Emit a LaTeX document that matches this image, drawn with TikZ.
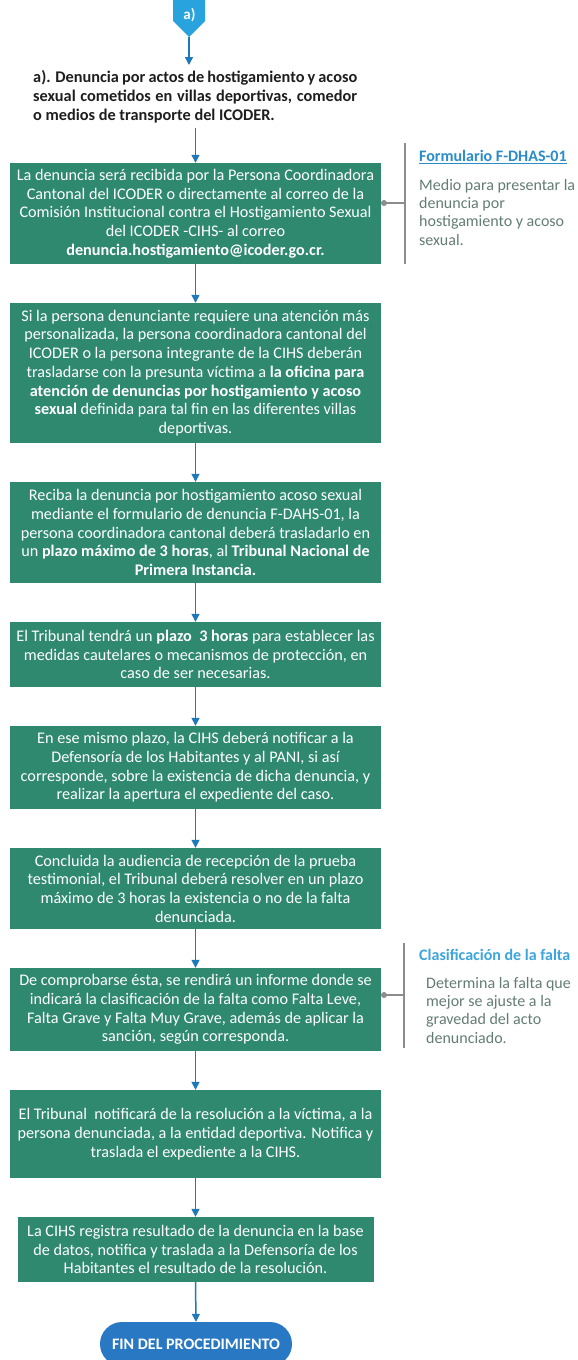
\documentclass[tikz,border=0pt]{standalone}
\usepackage{fontspec}
\setmainfont{Carlito}
\usetikzlibrary{arrows.meta,calc}
\definecolor{boxgreen}{RGB}{47,137,110}
\definecolor{arrowblue}{RGB}{31,120,185}
\definecolor{markblue}{RGB}{41,163,221}
\definecolor{pillblue}{RGB}{40,120,195}
\definecolor{barGray}{RGB}{140,140,140}
\definecolor{sidetext}{RGB}{100,125,115}
\definecolor{sidetitleA}{RGB}{42,140,200}
\definecolor{sidetitleB}{RGB}{60,165,220}
\definecolor{titletext}{RGB}{30,30,30}
\tikzset{
  stepbox/.style={fill=boxgreen, text=white, align=center, inner sep=0pt,
    minimum width=371pt, font=\fontsize{16.2}{18.7}\selectfont},
  flow/.style={draw=arrowblue, line width=1.5pt, -{Triangle[width=8pt,length=8pt]}},
  sidettl/.style={anchor=north west, inner sep=0pt, font=\bfseries\fontsize{16}{18}\selectfont},
  sidedesc/.style={anchor=north west, inner sep=0pt, align=left, text=sidetext, font=\fontsize{16}{18.3}\selectfont},
  graybar/.style={draw=barGray, line width=2.7pt},
  grayline/.style={draw=barGray, line width=1.5pt},
}
\begin{document}
\begin{tikzpicture}[x=1pt,y=-1pt]
\fill[white] (0,0) rectangle (578,1360);
\useasboundingbox (0,0) rectangle (578,1360);

% off-page marker
\fill[markblue] (173,-3) -- (205,-3) -- (205,21) -- (189,37) -- (173,21) -- cycle;
\node[text=white, font=\bfseries\fontsize{15}{17}\selectfont, inner sep=0pt] (ma) at (189.5,15.5) {a)};
\coordinate (mtip) at (189,37);
\coordinate (tin) at (189,65);

% title
\node[anchor=north west, inner sep=0pt, align=left, text=titletext,
      font=\bfseries\fontsize{16.3}{19}\selectfont] (title) at (33,70)
 {\makebox[324pt][s]{a). Denuncia por actos de hostigamiento y acoso}\\
  \makebox[324pt][s]{sexual cometidos en villas deportivas, comedor}\\
  o medios de transporte del ICODER.};
\coordinate (tout) at (195.5,128);

% boxes
\node[stepbox, minimum height=101pt] (b1) at (195.5,213.5)
 {La denuncia será recibida por la Persona Coordinadora\\
  Cantonal del ICODER o directamente al correo de la\\
  Comisión Institucional contra el Hostigamiento Sexual\\
  del ICODER -CIHS- al correo\\
  \textbf{denuncia.hostigamiento@icoder.go.cr.}};

\node[stepbox, minimum height=140pt] (b2) at (195.5,373)
 {Si la persona denunciante requiere una atención más\\
  personalizada, la persona coordinadora cantonal del\\
  ICODER o la persona integrante de la CIHS deberán\\
  trasladarse con la presunta víctima a \textbf{la oficina para}\\
  \textbf{atención de denuncias por hostigamiento y acoso}\\
  \textbf{sexual} definida para tal fin en las diferentes villas\\
  deportivas.};

\node[stepbox, minimum height=101pt] (b3) at (195.5,532.5)
 {Reciba la denuncia por hostigamiento acoso sexual\\
  mediante el formulario de denuncia F-DAHS-01, la\\
  persona coordinadora cantonal deberá trasladarlo en\\
  un \textbf{plazo máximo de 3 horas}, al \textbf{Tribunal Nacional de}\\
  \textbf{Primera Instancia.}};

\node[stepbox, minimum height=65pt] (b4) at (195.5,654.5)
 {El Tribunal tendrá un \textbf{plazo\ \ 3 horas} para establecer las\\
  medidas cautelares o mecanismos de protección, en\\
  caso de ser necesarias.};

\node[stepbox, minimum height=83pt] (b5) at (195.5,767.5)
 {En ese mismo plazo, la CIHS deberá notificar a la\\
  Defensoría de los Habitantes y al PANI, si así\\
  corresponde, sobre la existencia de dicha denuncia, y\\
  realizar la apertura el expediente del caso.};

\node[stepbox, minimum height=81pt] (b6) at (195.5,888.5)
 {Concluida la audiencia de recepción de la prueba\\
  testimonial, el Tribunal deberá resolver en un plazo\\
  máximo de 3 horas la existencia o no de la falta\\
  denunciada.};

\node[stepbox, minimum height=83pt] (b7) at (195.5,1009.5)
 {De comprobarse ésta, se rendirá un informe donde se\\
  indicará la clasificación de la falta como Falta Leve,\\
  Falta Grave y Falta Muy Grave, además de aplicar la\\
  sanción, según corresponda.};

\node[stepbox, minimum height=88pt] (b8) at (195.5,1134)
 {El Tribunal\ \ notificará de la resolución a la víctima, a la\\
  persona denunciada, a la entidad deportiva. Notifica y\\
  traslada el expediente a la CIHS.};

\node[stepbox, minimum height=65pt, minimum width=356pt] (b9) at (195.5,1249.5)
 {La CIHS registra resultado de la denuncia en la base\\
  de datos, notifica y traslada a la Defensoría de los\\
  Habitantes el resultado de la resolución.};

\node[fill=pillblue, rounded corners=22pt, minimum width=192pt, minimum height=44pt,
      inner sep=0pt, text=white, font=\bfseries\fontsize{16}{18}\selectfont] (fin) at (196,1344)
 {FIN DEL PROCEDIMIENTO};

% connectors
\draw[flow] (mtip) -- (tin);
\draw[flow] (tout) -- (b1.north);
\draw[flow] (b1.south) -- (b2.north);
\draw[flow] (b2.south) -- (b3.north);
\draw[flow] (b3.south) -- (b4.north);
\draw[flow] (b4.south) -- (b5.north);
\draw[flow] (b5.south) -- (b6.north);
\draw[flow] (b6.south) -- (b7.north);
\draw[flow] (b7.south) -- (b8.north);
\draw[flow] (b8.south) -- (b9.north);
\draw[flow] (b9.south) -- (fin.north);

% side note 1
\coordinate (d1) at (384,203);
\coordinate (e1) at (405,203);
\draw[graybar] (405,143) -- (405,264);
\draw[grayline] (d1) -- (e1);
\fill[barGray] (d1) circle (3pt);
\node[sidettl, text=sidetitleA] (s1t) at (419,150) {\underline{Formulario F-DHAS-01}};
\node[sidedesc] (s1d) at (419,179)
 {Medio para presentar la\\denuncia por\\hostigamiento y acoso\\sexual.};

% side note 2
\coordinate (d2) at (384,995);
\coordinate (e2) at (404,995);
\draw[graybar] (404,943) -- (404,1048);
\draw[grayline] (d2) -- (e2);
\fill[barGray] (d2) circle (3pt);
\node[sidettl, text=sidetitleB] (s2t) at (419,949) {Clasificación de la falta};
\node[sidedesc] (s2d) at (426,977)
 {Determina la falta que\\mejor se ajuste a la\\gravedad del acto\\denunciado.};
\end{tikzpicture}
\end{document}
